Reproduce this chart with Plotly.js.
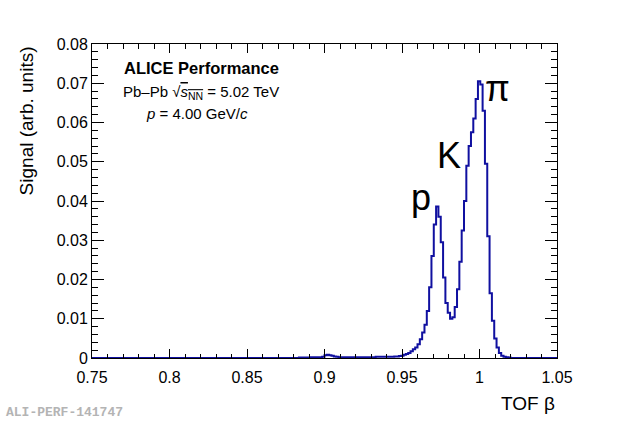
<!DOCTYPE html>
<html>
<head>
<meta charset="utf-8">
<script src="https://cdn.plot.ly/plotly-3.0.1.min.js"></script>
<style>
  html, body { margin: 0; padding: 0; background: #fff; }
  #graph { width: 620px; height: 422px; }
</style>
</head>
<body>
<div id="graph"></div>
<script>
// TOF beta histogram, 200 bins of 0.0015 from 0.75 to 1.05
var binLo = 0.75
var binW = 0.0015
var signal = [
  // 0.750 - 0.8775 (bins 0-84)
  0,0,0,0,0,0,0,0,0,0, 0,0,0,0,0,0,0,0,0,0,
  0,0,0,0,0,0,0,0,0,0, 0,0,0,0,0,0,0,0,0,0,
  0,0,0,0,0,0,0,0,0,0, 0,0,0,0,0,0,0,0,0,0,
  0,0,0,0,0,0,0,0,0,0, 0,0,0,0,0,0,0,0,0,0,
  0,0,0,0,0,
  // bins 85-98
  0,0,0,0,0.0001,0.0001,0.0001,0.0001,
  0.0001,0.0002,0.0002,0.0002,0.0002,0.0002,
  // bump near 0.9 (bins 99-106)
  0.0003,0.0007,0.0008,0.0007,0.0006,0.0004,0.0003,0.0002,
  // bins 107-129
  0.0002,0.0002,0.0002,0.0002,0.0002,0.0002,0.0002,0.0002,0.0002,0.0002,
  0.0002,0.0002,0.0002,0.0002,0.0002,0.0003,0.0003,0.0003,0.0003,0.0003,
  0.0003,0.0003,0.0003,
  // proton peak (bins 130-154)
  0.0004,0.0004,0.0005,0.0006,0.0008,0.0010,0.0013,0.0017,0.0022,0.0027,
  0.0035,0.0048,0.0065,0.0085,0.0120,0.0180,0.0260,0.0340,0.0386,0.0360,
  0.0295,0.0205,0.0140,0.0115,0.0100,
  // kaon / pion (bins 155-179)
  0.0104,0.0130,0.0175,0.0245,0.0325,0.0400,0.0490,0.0540,0.0575,0.0610,
  0.0660,0.0705,0.0697,0.0630,0.0495,0.0310,0.0165,0.0095,0.0050,0.0027,
  0.0013,0.0006,0.0003,0.0002,0.0001,
  // bins 180-199
  0,0,0,0,0,0,0,0,0,0, 0,0,0,0,0,0,0,0,0,0
]

var xTickVals = [0.75, 0.8, 0.85, 0.9, 0.95, 1, 1.05]
var xTickText = ['0.75', '0.8', '0.85', '0.9', '0.95', '1', '1.05']
var yTickVals = [0, 0.01, 0.02, 0.03, 0.04, 0.05, 0.06, 0.07, 0.08]
var yTickText = ['0', '0.01', '0.02', '0.03', '0.04', '0.05', '0.06', '0.07', '0.08']

var xs = []
var ys = []
for (var i = 0; i < signal.length; i++) {
  xs.push(binLo + i * binW)
  ys.push(signal[i])
}
xs.push(binLo + signal.length * binW)
ys.push(signal[signal.length - 1])

var font = 'Liberation Sans, Arial, Helvetica, sans-serif'

Plotly.newPlot('graph', [{
  x: xs,
  y: ys,
  mode: 'lines',
  line: { shape: 'hv', color: '#1010a0', width: 2 },
  hoverinfo: 'skip',
  showlegend: false
}], {
  width: 620,
  height: 422,
  margin: { l: 92, r: 63, t: 44, b: 64 },
  paper_bgcolor: '#fff',
  plot_bgcolor: '#fff',
  font: { family: font, size: 16, color: '#000' },
  xaxis: {
    range: [0.75, 1.05],
    tickvals: xTickVals,
    ticktext: xTickText,
    ticks: 'inside',
    ticklen: 9,
    tickwidth: 1,
    tickcolor: '#000',
    ticklabelstandoff: 5,
    minor: { ticks: 'inside', ticklen: 4.5, dtick: 0.01, tick0: 0.75, tickcolor: '#000', tickwidth: 1 },
    showline: true,
    linecolor: '#000',
    linewidth: 1,
    mirror: 'allticks',
    showgrid: false,
    zeroline: false,
    tickfont: { family: font, size: 16 }
  },
  yaxis: {
    range: [0, 0.08],
    tickvals: yTickVals,
    ticktext: yTickText,
    ticks: 'inside',
    ticklen: 12,
    tickwidth: 1,
    tickcolor: '#000',
    minor: { ticks: 'inside', ticklen: 6, dtick: 0.002, tick0: 0, tickcolor: '#000', tickwidth: 1 },
    showline: true,
    linecolor: '#000',
    linewidth: 1,
    mirror: 'allticks',
    showgrid: false,
    zeroline: false,
    tickfont: { family: font, size: 16 }
  },
  annotations: [
    { xref: 'paper', yref: 'paper', x: -0.14, y: 1, xanchor: 'center', yanchor: 'top',
      textangle: -90, showarrow: false, text: 'Signal (arb. units)', font: { family: font, size: 19 } },
    { xref: 'paper', yref: 'paper', x: 1, y: -0.145, xanchor: 'right', yanchor: 'middle',
      showarrow: false, text: 'TOF β', font: { family: font, size: 19 } },
    { xref: 'paper', yref: 'paper', x: 0.064, y: 0.924, xanchor: 'left', yanchor: 'middle',
      showarrow: false, text: '<b>ALICE Performance</b>', font: { family: font, size: 16.5 } },
    { xref: 'paper', yref: 'paper', x: 0.062, y: 0.847, xanchor: 'left', yanchor: 'middle',
      showarrow: false, text: 'Pb–Pb √<span style="text-decoration:overline"><i>s</i><sub>NN</sub></span> = 5.02 TeV',
      font: { family: font, size: 15 } },
    { xref: 'paper', yref: 'paper', x: 0.112, y: 0.78, xanchor: 'left', yanchor: 'middle',
      showarrow: false, text: '<i>p</i> = 4.00 GeV/<i>c</i>', font: { family: font, size: 15 } },
    { xref: 'paper', yref: 'paper', x: (497 - 92) / 465, y: (358 - 88) / 314, xanchor: 'center', yanchor: 'middle',
      showarrow: false, text: 'π', font: { family: font, size: 36 } },
    { xref: 'paper', yref: 'paper', x: (449 - 92) / 465, y: (358 - 155) / 314, xanchor: 'center', yanchor: 'middle',
      showarrow: false, text: 'K', font: { family: font, size: 36 } },
    { xref: 'paper', yref: 'paper', x: (421 - 92) / 465, y: (358 - 197) / 314, xanchor: 'center', yanchor: 'middle',
      showarrow: false, text: 'p', font: { family: font, size: 36 } },
    { xref: 'paper', yref: 'paper', x: -0.19, y: -0.175, xanchor: 'left', yanchor: 'middle',
      showarrow: false, text: '<b>ALI-PERF-141747</b>', font: { family: 'Liberation Mono, Courier New, monospace', size: 13, color: '#b4b4b4' } }
  ]
}, { displayModeBar: false, staticPlot: true })
</script>
</body>
</html>
